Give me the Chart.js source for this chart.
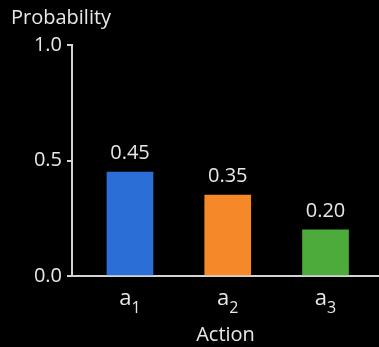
<!DOCTYPE html>
<html>
<head>
<meta charset="utf-8">
<script src="https://cdn.jsdelivr.net/npm/chart.js@4"></script>
<style>
  html, body { margin: 0; padding: 0; background: #000; }
  #wrap { width: 379px; height: 347px; position: relative; }
</style>
</head>
<body>
<div id="wrap"><canvas id="barChart"></canvas></div>
<script>
// data
const actionNames = ["a", "a", "a"];
const actionSubs = ["1", "2", "3"];
const actionPos = [1, 2, 3];
const probs = [0.45, 0.35, 0.2];
const barColors = ["#2b6fd6", "#f5892a", "#4dab3c"];
const yTicks = [0, 0.5, 1.0];

const FONT = "'Open Sans', 'Noto Sans', 'DejaVu Sans', sans-serif";
const TXT = "#e8e8e8";
const AXIS = "#d4d4d4";

// value labels, subscripted tick labels and the y title
const textPlugin = {
  id: "texts",
  afterDraw(chart) {
    const ctx = chart.ctx;
    const meta = chart.getDatasetMeta(0);
    ctx.save();
    ctx.fillStyle = TXT;
    ctx.textAlign = "center";
    ctx.textBaseline = "alphabetic";
    ctx.font = `20px ${FONT}`;
    meta.data.forEach((bar, i) => {
      ctx.fillText(probs[i].toFixed(2), bar.x, bar.y - 13);
    });

    // a_i under the axis
    const xs = chart.scales.x;
    actionPos.forEach((p, i) => {
      const cx = xs.getPixelForValue(p);
      ctx.font = `22px ${FONT}`;
      const w1 = ctx.measureText(actionNames[i]).width;
      ctx.font = `16px ${FONT}`;
      const w2 = ctx.measureText(actionSubs[i]).width;
      const start = cx - (w1 + w2) / 2;
      ctx.textAlign = "left";
      ctx.font = `22px ${FONT}`;
      ctx.fillText(actionNames[i], start, 305);
      ctx.font = `16px ${FONT}`;
      ctx.fillText(actionSubs[i], start + w1, 313);
    });

    ctx.textAlign = "left";
    ctx.font = `20px ${FONT}`;
    ctx.fillText("Probability", 11, 24);
    ctx.restore();
  },
};

new Chart(document.getElementById("barChart"), {
  type: "bar",
  data: {
    datasets: [
      {
        data: actionPos.map((x, i) => ({ x, y: probs[i] })),
        backgroundColor: barColors,
        borderWidth: 0,
        barThickness: 46,
      },
    ],
  },
  options: {
    responsive: true,
    maintainAspectRatio: false,
    animation: false,
    devicePixelRatio: 1,
    layout: { padding: { top: 45, left: 0, right: 0, bottom: 0 } },
    plugins: {
      legend: { display: false },
      tooltip: { enabled: false },
    },
    scales: {
      x: {
        type: "linear",
        offset: false,
        min: 0.407,
        max: 3.547,
        afterBuildTicks: (s) => {
          s.ticks = actionPos.map((v) => ({ value: v }));
        },
        afterFit: (s) => {
          s.height = 71;
        },
        ticks: { display: false },
        grid: { offset: false, drawOnChartArea: false, drawTicks: false },
        border: { color: AXIS, width: 2 },
        title: {
          display: true,
          text: "Action",
          color: TXT,
          font: { family: FONT, size: 20 },
          padding: { top: 0, bottom: 0 },
        },
      },
      y: {
        min: 0,
        max: 1,
        afterBuildTicks: (s) => {
          s.ticks = yTicks.map((v) => ({ value: v }));
        },
        afterFit: (s) => {
          s.width = 72;
        },
        ticks: {
          color: TXT,
          padding: 5,
          font: { family: FONT, size: 20 },
          callback: (v) => Number(v).toFixed(1),
        },
        grid: {
          drawOnChartArea: false,
          drawTicks: true,
          tickLength: 5,
          color: AXIS,
          lineWidth: 2,
        },
        border: { color: AXIS, width: 2 },
      },
    },
  },
  plugins: [textPlugin],
});
</script>
</body>
</html>
